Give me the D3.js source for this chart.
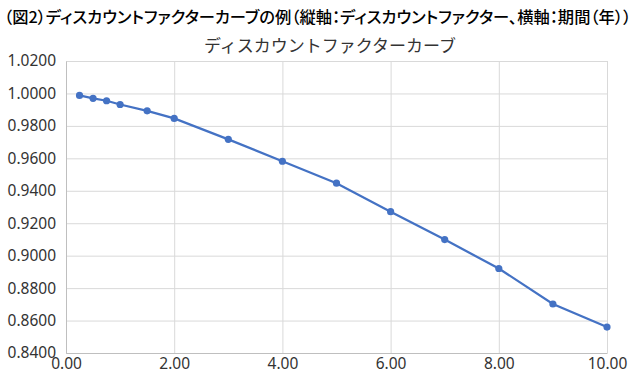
<!DOCTYPE html>
<html>
<head>
<meta charset="utf-8">
<script src="https://cdn.jsdelivr.net/npm/d3@7"></script>
<style>
  body { margin: 0; background: #fff; }
  svg { display: block; }
</style>
</head>
<body>
<svg id="chart"></svg>
<script>

var headline = "（図2）ディスカウントファクターカーブの例（縦軸：ディスカウントファクター、横軸：期間（年））";
var chartTitle = "ディスカウントファクターカーブ";

// period (years)
var years = [0.25, 0.5, 0.75, 1, 1.5, 2, 3, 4, 5, 6, 7, 8, 9, 10];
// discount factor
var factors = [0.9988, 0.9970, 0.9955, 0.9932, 0.9893, 0.9846, 0.9717, 0.9582, 0.9447, 0.9271, 0.9099, 0.8921, 0.8702, 0.8560];

var xTicks = [0, 2, 4, 6, 8, 10];
var yTicks = [0.84, 0.86, 0.88, 0.90, 0.92, 0.94, 0.96, 0.98, 1.00, 1.02];

var dimensions = {
    width: 640,
    height: 375,
    margin: { top: 61, bottom: 22, left: 66, right: 33 }
};

var svg = d3.select("#chart")
    .attr("width", dimensions.width)
    .attr("height", dimensions.height);

var xScale = d3.scaleLinear()
    .domain([0, 10])
    .range([dimensions.margin.left, dimensions.width - dimensions.margin.right]);

var yScale = d3.scaleLinear()
    .domain([0.84, 1.02])
    .range([dimensions.height - dimensions.margin.bottom, dimensions.margin.top]);

// headline - proportional kana, shrink font to fit the width
var head = svg.append("text")
    .attr("x", 4)
    .attr("y", 23)
    .style("font-family", "'Noto Sans CJK JP', sans-serif")
    .style("font-feature-settings", "'palt'")
    .style("font-size", "18px")
    .style("font-weight", 500)
    .style("fill", "#000")
    .text(headline);

var w = head.node().getComputedTextLength();
if (w > 628) head.style("font-size", (18 * 628 / w).toFixed(2) + "px");

// chart title
svg.append("text")
    .attr("x", 330)
    .attr("y", 52)
    .attr("text-anchor", "middle")
    .style("font-family", "'Noto Sans CJK JP', sans-serif")
    .style("font-size", "17px")
    .style("fill", "#333")
    .text(chartTitle);

// gridlines
var xGrid = d3.axisBottom(xScale)
    .tickValues(xTicks)
    .tickSize(-(yScale.range()[0] - yScale.range()[1]))
    .tickFormat("");

svg.append("g")
    .attr("transform", `translate(0,${yScale.range()[0]})`)
    .call(xGrid)
    .call(g => g.select(".domain").remove())
    .call(g => g.selectAll("line").attr("stroke", "#d9d9d9"));

var yGrid = d3.axisLeft(yScale)
    .tickValues(yTicks)
    .tickSize(-(xScale.range()[1] - xScale.range()[0]))
    .tickFormat("");

svg.append("g")
    .attr("transform", `translate(${dimensions.margin.left},0)`)
    .call(yGrid)
    .call(g => g.select(".domain").remove())
    .call(g => g.selectAll("line").attr("stroke", "#d9d9d9"));

// axes
var xAxisgen = d3.axisBottom(xScale)
    .tickValues(xTicks)
    .tickSize(0)
    .tickPadding(5)
    .tickFormat(d3.format(".2f"));

svg.append("g")
    .attr("transform", `translate(0,${yScale.range()[0]})`)
    .call(xAxisgen)
    .call(g => g.select(".domain").attr("stroke", "#bfbfbf"))
    .call(g => g.selectAll("text")
        .style("font-family", "'Noto Sans', sans-serif")
        .style("font-size", "15.5px")
        .style("fill", "#333"));

var yAxisgen = d3.axisLeft(yScale)
    .tickValues(yTicks)
    .tickSize(0)
    .tickPadding(10)
    .tickFormat(d3.format(".4f"));

svg.append("g")
    .attr("transform", `translate(${dimensions.margin.left},0)`)
    .call(yAxisgen)
    .call(g => g.select(".domain").attr("stroke", "#bfbfbf"))
    .call(g => g.selectAll("text")
        .style("font-family", "'Noto Sans', sans-serif")
        .style("font-size", "15.5px")
        .style("fill", "#333"));

// line + markers
var points = years.map((d, i) => ({ x: d, y: factors[i] }));

var line = d3.line()
    .x(d => xScale(d.x))
    .y(d => yScale(d.y));

svg.append("path")
    .datum(points)
    .attr("d", line)
    .attr("fill", "none")
    .attr("stroke", "#4472c4")
    .attr("stroke-width", 2.25);

svg.selectAll(".dot")
    .data(points)
    .enter()
    .append("circle")
    .attr("class", "dot")
    .attr("cx", d => xScale(d.x))
    .attr("cy", d => yScale(d.y))
    .attr("r", 3.6)
    .attr("fill", "#4472c4");

</script>
</body>
</html>
